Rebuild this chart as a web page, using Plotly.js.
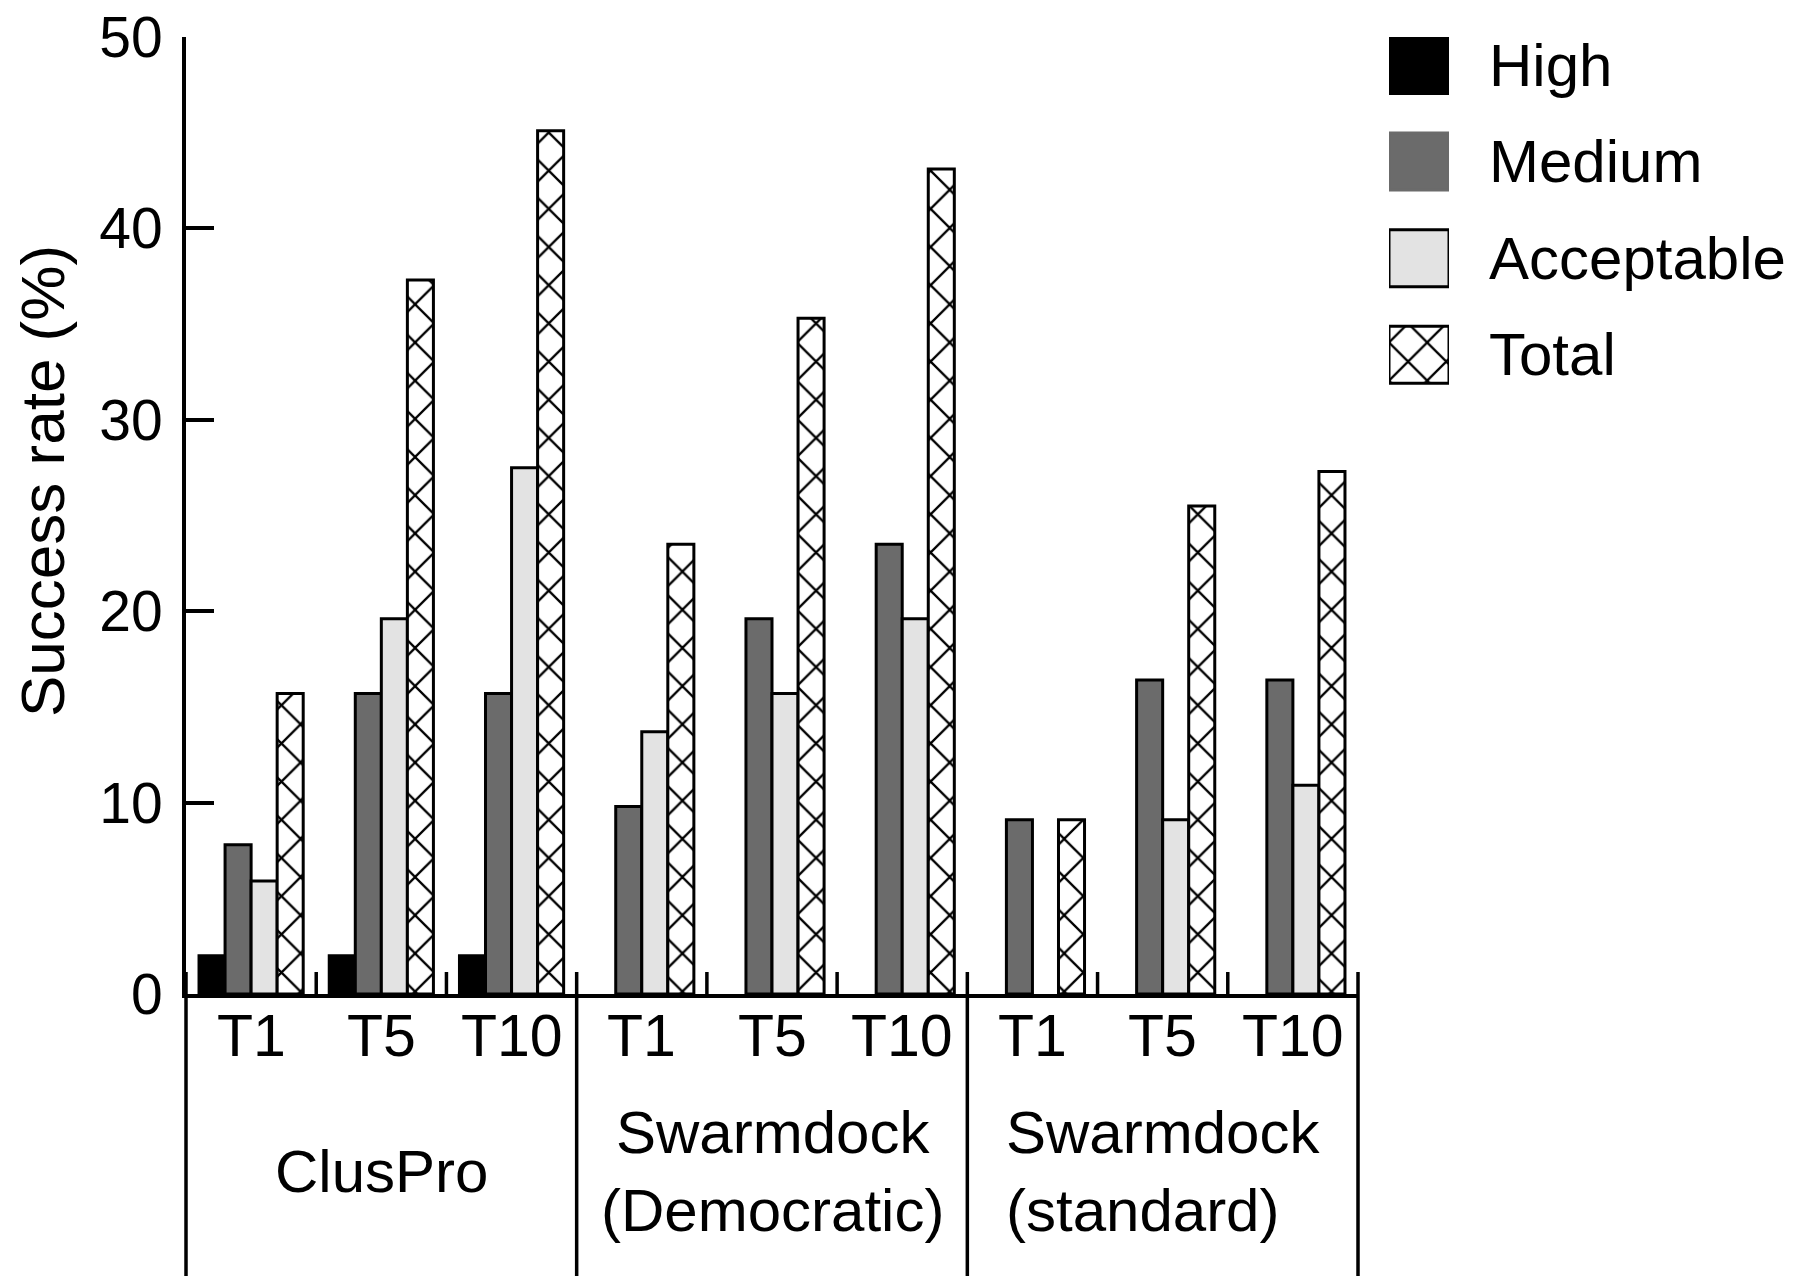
<!DOCTYPE html>
<html>
<head>
<meta charset="utf-8">
<script src="https://cdn.plot.ly/plotly-3.0.1.min.js"></script>
<style>html,body{margin:0;padding:0;background:#fff;}</style>
</head>
<body>
<div id="chart" style="width:1800px;height:1279px;"></div>
<script>
// ---- data ----
const groupLabels = ['ClusPro', 'Swarmdock<br>(Democratic)', 'Swarmdock<br>(standard)'];
const groupAlign = ['center', 'center', 'left'];
const topLabels = ['T1', 'T5', 'T10'];
const seriesNames = ['High', 'Medium', 'Acceptable', 'Total'];
const high       = [2.0, 2.0, 2.0, null, null, null, null, null, null];
const medium     = [7.8, 15.7, 15.7, 9.8, 19.6, 23.5, 9.1, 16.4, 16.4];
const acceptable = [5.9, 19.6, 27.5, 13.7, 15.7, 19.6, null, 9.1, 10.9];
const total      = [15.7, 37.3, 45.1, 23.5, 35.3, 43.1, 9.1, 25.5, 27.3];
const yTicks = [0, 10, 20, 30, 40, 50];
const yTitle = 'Success rate (%)';

// ---- styles ----
const fills = ['#000000', '#6b6b6b', '#e3e3e3', '#ffffff'];
const outlines = ['#000', '#000', '#000', '#000'];
const legendOutlines = ['#000', '#6b6b6b', '#000', '#000'];
const patterns = ['', '', '', 'x'];
const FONT = 'Liberation Sans, Arial, sans-serif';
const patSize = 27, patSolid = 0.16;

const nGroups = groupLabels.length, nTop = topLabels.length, nCat = nGroups * nTop;
const xs = [];
const xt = [];
groupLabels.forEach((g, gi) => topLabels.forEach((t, ti) => { xs.push(gi * nTop + ti); xt.push(t); }));

const seriesVals = [high, medium, acceptable, total];
const traces = seriesVals.map((vals, i) => ({
  type: 'bar', name: seriesNames[i], x: xs, y: vals,
  xaxis: 'x', yaxis: 'y', showlegend: false, hoverinfo: 'skip',
  marker: {
    color: fills[i],
    line: {color: outlines[i], width: 3},
    pattern: {shape: patterns[i], fgcolor: '#000', bgcolor: '#fff', size: patSize, solidity: patSolid}
  }
}));

// custom legend keys: one small bar per series on a side axis
seriesNames.forEach((s, i) => {
  traces.push({
    type: 'bar', orientation: 'h', name: s, y: [s], x: [1], base: 0,
    width: 0.59, xaxis: 'x2', yaxis: 'y2', showlegend: false, hoverinfo: 'skip',
    marker: {
      color: fills[i],
      line: {color: legendOutlines[i], width: 3},
      pattern: {shape: patterns[i], fgcolor: '#000', bgcolor: '#fff', size: patSize, solidity: patSolid}
    }
  });
});

// geometry (pixels)
const W = 1800, H = 1279, ml = 186, mr = 20, mt = 37, mb = 285;
const plotW = 1172, pw = W - ml - mr, ph = H - mt - mb;
const dom = plotW / pw;
const tickPx = 22;

const shapes = [];
for (let k = 0; k <= nCat; k++) {
  const xp = dom * k / nCat;
  if (k % nTop === 0) {
    shapes.push({type: 'line', xref: 'paper', yref: 'paper', x0: xp, x1: xp,
      y0: tickPx / ph, y1: -(mb - 3) / ph, line: {color: '#000', width: 3.5}});
  } else {
    shapes.push({type: 'line', xref: 'paper', yref: 'paper', x0: xp, x1: xp,
      y0: 0, y1: tickPx / ph, line: {color: '#000', width: 3.5}});
  }
}

const annotations = [];
// tick labels (T1/T5/T10)
xs.forEach((x, i) => {
  annotations.push({
    text: xt[i], xref: 'x', yref: 'paper', x: x, y: -(1036 - (H - mb)) / ph,
    xanchor: 'center', yanchor: 'middle', showarrow: false,
    font: {family: FONT, size: 59, color: '#000'}
  });
});
// group labels
groupLabels.forEach((g, gi) => {
  annotations.push({
    text: g, xref: 'x', yref: 'paper', x: gi * nTop + (nTop - 1) / 2, y: -(1171 - (H - mb)) / ph,
    xanchor: 'center', yanchor: 'middle', showarrow: false, align: groupAlign[gi],
    font: {family: FONT, size: 60, color: '#000'}
  });
});
// legend labels
seriesNames.forEach((s) => {
  annotations.push({
    text: s, xref: 'x2', yref: 'y2', x: 1, y: s, xanchor: 'left', yanchor: 'middle',
    xshift: 38, showarrow: false, font: {family: FONT, size: 60, color: '#000'}
  });
});
// y axis title
annotations.push({
  text: yTitle, xref: 'paper', yref: 'paper', x: (42 - ml) / pw, y: ((H - mb) - 481) / ph,
  xanchor: 'center', yanchor: 'middle', textangle: -90, showarrow: false,
  font: {family: FONT, size: 62, color: '#000'}
});

const layout = {
  width: W, height: H,
  margin: {l: ml, r: mr, t: mt, b: mb},
  paper_bgcolor: '#fff', plot_bgcolor: '#fff',
  barmode: 'group', bargap: 0.2, bargroupgap: 0,
  font: {family: FONT, color: '#000'},
  xaxis: {
    domain: [0, dom], range: [-0.5, nCat - 0.5], tickmode: 'array', tickvals: xs, ticktext: xt,
    showticklabels: false,
    ticks: '', showline: true, linecolor: '#000', linewidth: 4, showgrid: false, zeroline: false,
    automargin: false, fixedrange: true
  },
  yaxis: {
    domain: [0, 1], range: [0, 50], tickmode: 'array', tickvals: yTicks,
    ticks: 'inside', ticklen: 28, tickwidth: 4, tickcolor: '#000',
    showline: true, linecolor: '#000', linewidth: 4, showgrid: false, zeroline: false,
    tickfont: {family: FONT, size: 57, color: '#000'}, ticklabelstandoff: 8,
    automargin: false, fixedrange: true
  },
  xaxis2: {domain: [(1389 - ml) / pw, (1449 - ml) / pw], anchor: 'y2', range: [0, 1], visible: false, fixedrange: true},
  yaxis2: {domain: [(H - mb - 403) / ph, 1], anchor: 'x2', type: 'category',
    range: [3.5, -0.29], visible: false, fixedrange: true},
  shapes: shapes,
  annotations: annotations,
  showlegend: false
};

Plotly.newPlot('chart', traces, layout, {staticPlot: true, displayModeBar: false});
</script>
</body>
</html>
